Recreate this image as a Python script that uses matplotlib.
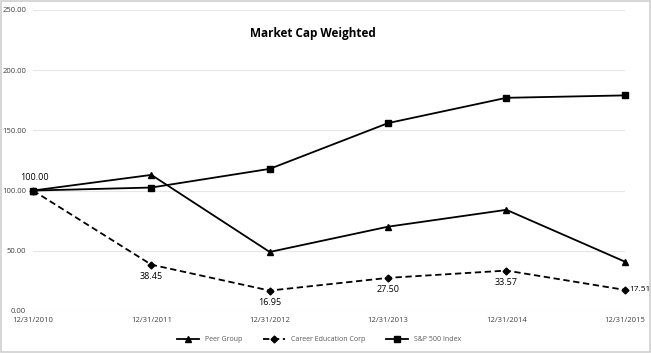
import matplotlib
matplotlib.use("Agg")
import matplotlib.pyplot as plt
from matplotlib.patches import Rectangle

plt.rcParams['font.family'] = ['Open Sans', 'DejaVu Sans']

dates = ["12/31/2010", "12/31/2011", "12/31/2012", "12/31/2013", "12/31/2014", "12/31/2015"]
peer_group = [100.0, 113.0, 49.0, 70.0, 84.0, 41.0]
career_ed = [100.0, 38.45, 16.95, 27.50, 33.57, 17.51]
sp500 = [100.0, 102.5, 118.0, 156.0, 177.0, 179.0]
yticks = [0, 50, 100, 150, 200, 250]

fig = plt.figure(figsize=(6.51, 3.53), dpi=100)
ax = fig.add_axes([0.0507, 0.119, 0.909, 0.853])
x = list(range(len(dates)))

ax.plot(x, peer_group, color='black', lw=1.3, marker='^', ms=4.5, label='Peer Group', clip_on=False, zorder=3)
ax.plot(x, career_ed, color='black', lw=1.3, ls=(0, (3.5, 2)), marker='D', ms=3.5, label='Career Education Corp', clip_on=False, zorder=3)
ax.plot(x, sp500, color='black', lw=1.3, marker='s', ms=5, label='S&P 500 Index', clip_on=False, zorder=3)

ax.set_xlim(0, 5)
ax.set_ylim(0, 250)
ax.set_yticks(yticks)
ax.set_yticklabels([f"{v:.2f}" for v in yticks], fontsize=5.5, color='#404040')
ax.set_xticks(x)
ax.set_xticklabels(dates, fontsize=5.5, color='#404040')
ax.tick_params(length=0, pad=4)
ax.tick_params(axis='y', pad=5)
ax.grid(axis='y', color='#e6e6e6', lw=0.8)
ax.set_axisbelow(True)
for s in ax.spines.values():
    s.set_visible(False)

# data labels for Career Education Corp
ax.annotate(f"{career_ed[0]:.2f}", (0, career_ed[0]), xytext=(1, 6), textcoords='offset points',
            ha='center', va='bottom', fontsize=6.5)
for i in range(1, 5):
    ax.annotate(f"{career_ed[i]:.2f}", (i, career_ed[i]), xytext=(0, -5), textcoords='offset points',
                ha='center', va='top', fontsize=6.5)
ax.annotate(f"{career_ed[5]:.2f}", (5, career_ed[5]), xytext=(3, 0), textcoords='offset points',
            ha='left', va='center', fontsize=6)

fig.text(0.481, 0.906, "Market Cap Weighted", ha='center', va='center', fontsize=8.5, fontweight='bold')

leg = fig.legend(loc='center', bbox_to_anchor=(0.49, 0.037), ncol=3, frameon=False, fontsize=5,
                 handlelength=3.2, columnspacing=3, labelcolor='#595959')

fig.patches.append(Rectangle((0.002, 0.003), 0.996, 0.994, transform=fig.transFigure,
                             fill=False, edgecolor='#d0d0d0', lw=1.2))

fig.savefig('out.png', dpi=100)
